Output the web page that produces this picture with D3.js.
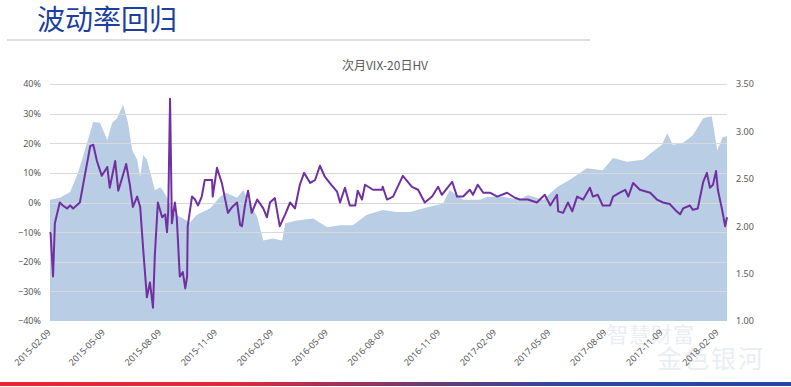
<!DOCTYPE html>
<html>
<head>
<meta charset="utf-8">
<script src="https://d3js.org/d3.v7.min.js"></script>
<style>
    body { margin: 0; background: #fff; }
    svg { display: block; }
</style>
</head>
<body>
<div id="chart"></div>
<script>
// 次月VIX-20日HV (left axis, %)
var spreadDates = ["2015-02-09","2015-02-10","2015-02-14","2015-02-17","2015-02-25","2015-03-02","2015-03-09","2015-03-14","2015-03-19","2015-03-30",
    "2015-04-07","2015-04-16","2015-04-21","2015-04-27","2015-05-05","2015-05-14","2015-05-18","2015-05-27","2015-06-01","2015-06-07",
    "2015-06-14","2015-06-20","2015-06-25","2015-07-02","2015-07-07","2015-07-12","2015-07-18","2015-07-23","2015-07-28","2015-07-31",
    "2015-08-05","2015-08-12","2015-08-17","2015-08-20","2015-08-22","2015-08-25","2015-08-28","2015-09-02","2015-09-05","2015-09-10",
    "2015-09-15","2015-09-19","2015-09-22","2015-09-23","2015-09-30","2015-10-05","2015-10-10","2015-10-16","2015-10-21","2015-11-02",
    "2015-11-03","2015-11-10","2015-11-18","2015-11-28","2015-12-05","2015-12-13","2015-12-18","2015-12-21","2015-12-26","2015-12-31",
    "2016-01-06","2016-01-15","2016-01-25","2016-01-31","2016-02-05","2016-02-13","2016-02-21","2016-03-01","2016-03-09","2016-03-17",
    "2016-03-25","2016-04-01","2016-04-11","2016-04-19","2016-04-27","2016-05-05","2016-05-13","2016-05-25","2016-05-30","2016-06-07",
    "2016-06-15","2016-06-24","2016-06-28","2016-07-05","2016-07-10","2016-07-23","2016-08-07","2016-08-08","2016-08-15","2016-08-25",
    "2016-09-10","2016-09-25","2016-10-05","2016-10-16","2016-10-28","2016-11-07","2016-11-13","2016-11-30","2016-12-08","2016-12-18",
    "2016-12-29","2017-01-03","2017-01-11","2017-01-20","2017-01-31","2017-02-12","2017-02-28","2017-03-13","2017-03-21","2017-04-03",
    "2017-04-18","2017-05-01","2017-05-10","2017-05-21","2017-05-23","2017-05-31","2017-06-08","2017-06-15","2017-06-23","2017-07-03",
    "2017-07-14","2017-07-19","2017-07-27","2017-08-04","2017-08-16","2017-08-21","2017-09-01","2017-09-10","2017-09-15","2017-09-23",
    "2017-10-04","2017-10-21","2017-11-01","2017-11-11","2017-11-22","2017-12-01","2017-12-09","2017-12-14","2017-12-25","2017-12-30",
    "2018-01-07","2018-01-16","2018-01-22","2018-01-27","2018-02-01","2018-02-06","2018-02-09","2018-02-16","2018-02-21","2018-02-24"];
var spreadValues = [-10, -10.5, -25, -7, 0, -1, -2, -1, -2, 0,
    9, 19, 19.5, 14, 9, 12, 5, 14, 4, 8,
    13, 6, -1.5, 2, -1.5, -16, -32, -27, -35.5, -18,
    0, -5, -4, -10, -3, 35, -7, 0, -5, -25,
    -23.5, -29, -25, -8, 2, 1, -1, 2, 7.6, 7.6,
    2, 11.7, 6.6, -3.5, -1.5, 0, -7.6, -8, -1, 4,
    -3.5, 1, -2, -5, 0, 1.5, -8, -4, 0, -2,
    6, 10, 6.6, 7.6, 12.4, 8.7, 6.6, 3.7, 0, 5,
    -1, -1, 4, 1, 6, 4.3, 4.3, 5.3, 1, 2,
    9, 5.3, 4.3, 0, 2, 5.3, 2.6, 7, 2, 2,
    4.3, 2.6, 6, 3.3, 3.3, 2, 3.3, 1.6, 1, 1,
    0, 2.6, -1, 2.6, -3, -3.5, 0, -3, 2, 1,
    5, 2, 2.6, -1, -1, 2, 3.3, 4.3, 2, 6.6,
    4.3, 3.3, 1, 0, -0.5, -2.5, -4, -2, -1, -2.5,
    -2, 7, 10, 5, 6, 10.6, 4.3, -2.5, -8, -5];

// 50ETF 价格 (right axis)
var etfDates = ["2015-02-09","2015-02-25","2015-03-14","2015-03-27","2015-04-16","2015-04-21","2015-05-02","2015-05-14","2015-05-22","2015-05-30",
    "2015-06-09","2015-06-17","2015-06-24","2015-07-02","2015-07-07","2015-07-12","2015-07-18","2015-07-26","2015-07-31","2015-08-09",
    "2015-08-13","2015-08-22","2015-08-30","2015-09-10","2015-09-27","2015-10-08","2015-10-30","2015-11-15","2015-11-26","2015-12-13",
    "2015-12-23","2016-01-03","2016-01-15","2016-01-25","2016-02-10","2016-02-25","2016-03-01","2016-03-20","2016-04-16","2016-05-09",
    "2016-05-30","2016-06-20","2016-07-13","2016-08-08","2016-08-31","2016-09-22","2016-10-20","2016-11-15","2016-11-26","2016-12-18",
    "2017-01-15","2017-01-26","2017-02-21","2017-03-21","2017-04-03","2017-04-28","2017-05-21","2017-06-11","2017-07-09","2017-08-04",
    "2017-08-21","2017-09-13","2017-10-09","2017-10-24","2017-11-09","2017-11-18","2017-11-27","2017-12-14","2017-12-30","2018-01-16",
    "2018-01-22","2018-01-30","2018-02-08","2018-02-17","2018-02-24"];
var etfValues = [2.28, 2.30, 2.36, 2.56, 2.99, 3.10, 3.09, 2.91, 3.09, 3.14,
    3.28, 3.09, 2.80, 2.70, 2.52, 2.75, 2.70, 2.51, 2.38, 2.41,
    2.38, 2.28, 2.14, 2.10, 2.04, 2.12, 2.19, 2.31, 2.35, 2.30,
    2.38, 2.24, 2.10, 1.85, 1.87, 1.85, 2.03, 2.06, 2.08, 1.99,
    2.01, 2.01, 2.12, 2.17, 2.15, 2.15, 2.20, 2.24, 2.38, 2.28,
    2.28, 2.31, 2.31, 2.28, 2.33, 2.28, 2.41, 2.49, 2.61, 2.59,
    2.72, 2.68, 2.70, 2.78, 2.86, 2.98, 2.86, 2.88, 2.96, 3.14,
    3.15, 3.16, 2.80, 2.94, 2.95];

var leftTicks = [-0.4, -0.3, -0.2, -0.1, 0, 0.1, 0.2, 0.3, 0.4];
var rightTicks = [1.0, 1.5, 2.0, 2.5, 3.0, 3.5];
var xTickLabels = ["2015-02-09","2015-05-09","2015-08-09","2015-11-09","2016-02-09","2016-05-09",
    "2016-08-09","2016-11-09","2017-02-09","2017-05-09","2017-08-09","2017-11-09","2018-02-09"];

var W = 791, H = 387;
var parse = d3.timeParse("%Y-%m-%d");

var spread = spreadDates.map(function(d, i) { return {date: parse(d), v: spreadValues[i] / 100}; });
var etf = etfDates.map(function(d, i) { return {date: parse(d), v: etfValues[i]}; });

var svg = d3.select("#chart").append("svg")
    .attr("width", W)
    .attr("height", H);

// header
svg.append("text")
    .text("波动率回归")
    .attr("x", 37)
    .attr("y", 30)
    .attr("fill", "#1c3fa0")
    .style("font-family", "'Noto Sans CJK SC', sans-serif")
    .style("font-size", "28px");
svg.append("rect")
    .attr("x", 7).attr("y", 39)
    .attr("width", 583).attr("height", 2)
    .attr("fill", "#dedede");

// watermark
var wm = svg.append("g")
    .attr("fill", "#e9edf4")
    .style("font-family", "'Noto Sans CJK SC', sans-serif");
wm.append("text").text("智慧财富").attr("x", 607).attr("y", 342)
    .style("font-size", "21px").style("letter-spacing", "1px");
wm.append("text").text("金色银河").attr("x", 657).attr("y", 368)
    .style("font-size", "25px").style("letter-spacing", "2px");

// bottom gradient bar
var grad = svg.append("defs").append("linearGradient")
    .attr("id", "bar").attr("x1", "0%").attr("x2", "100%");
grad.append("stop").attr("offset", "0%").attr("stop-color", "#ea2530");
grad.append("stop").attr("offset", "30%").attr("stop-color", "#e0283a");
grad.append("stop").attr("offset", "55%").attr("stop-color", "#6a3a78");
grad.append("stop").attr("offset", "72%").attr("stop-color", "#2c48a0");
grad.append("stop").attr("offset", "100%").attr("stop-color", "#2248a8");
svg.append("rect")
    .attr("x", 0).attr("y", 382)
    .attr("width", W).attr("height", 4)
    .attr("fill", "url(#bar)");

// chart title
svg.append("text")
    .text("次月VIX-20日HV")
    .attr("x", 385)
    .attr("y", 70)
    .attr("text-anchor", "middle")
    .attr("fill", "#595959")
    .style("font-family", "'Noto Sans CJK SC', sans-serif")
    .style("font-size", "12px");

// scales
var x = d3.scaleTime()
    .domain([parse("2015-02-09"), parse("2018-02-24")])
    .range([50, 727]);
var yL = d3.scaleLinear().domain([-0.4, 0.4]).range([321, 84]);
var yR = d3.scaleLinear().domain([1.0, 3.5]).range([321, 84]);

// area (50ETF)
svg.append("path")
    .datum(etf)
    .attr("fill", "#b9cde4")
    .attr("d", d3.area()
        .x(function(d) { return x(d.date); })
        .y0(yR(1.0))
        .y1(function(d) { return yR(d.v); }));

// gridlines
svg.append("g")
    .selectAll("line")
    .data(leftTicks.slice(1))
    .enter().append("line")
    .attr("x1", 50).attr("x2", 727)
    .attr("y1", function(d) { return Math.round(yL(d)) + 0.5; })
    .attr("y2", function(d) { return Math.round(yL(d)) + 0.5; })
    .attr("stroke", "#d9d9d9")
    .attr("stroke-width", 1);

// line (spread)
svg.append("path")
    .datum(spread)
    .attr("fill", "none")
    .attr("stroke", "#7030a0")
    .attr("stroke-width", 2)
    .attr("stroke-linejoin", "round")
    .attr("d", d3.line()
        .x(function(d) { return x(d.date); })
        .y(function(d) { return yL(d.v); }));

// left axis
var axL = svg.append("g")
    .attr("transform", "translate(41,0)")
    .call(d3.axisLeft(yL).tickValues(leftTicks).tickSize(0).tickPadding(0)
        .tickFormat(d3.format(".0%")));
axL.select(".domain").remove();

// right axis
var axR = svg.append("g")
    .attr("transform", "translate(736,0)")
    .call(d3.axisRight(yR).tickValues(rightTicks).tickSize(0).tickPadding(0)
        .tickFormat(d3.format(".2f")));
axR.select(".domain").remove();

// bottom axis
var axB = svg.append("g")
    .attr("transform", "translate(0,321)")
    .call(d3.axisBottom(x).tickValues(xTickLabels.map(parse)).tickSize(0)
        .tickFormat(d3.timeFormat("%Y-%m-%d")));
axB.select(".domain").remove();
axB.selectAll("text")
    .attr("y", 0).attr("dy", 0)
    .attr("transform", "translate(1,12)rotate(-45)")
    .style("text-anchor", "end");

svg.selectAll(".tick text")
    .attr("fill", "#595959")
    .style("font-family", "'Noto Sans', sans-serif")
    .style("font-size", "9px");
</script>
</body>
</html>
